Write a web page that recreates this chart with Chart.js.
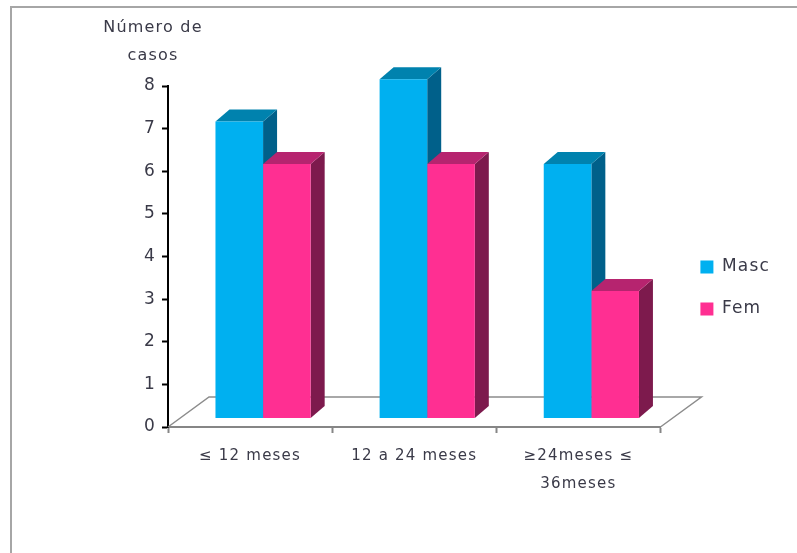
<!DOCTYPE html>
<html>
<head>
<meta charset="utf-8">
<script src="https://cdn.jsdelivr.net/npm/chart.js@4"></script>
<style>
  body { margin: 0; background: #fff; }
  canvas { display: block; }
</style>
</head>
<body>
<canvas id="chart" width="797" height="553"></canvas>
<script>
const categories = ['≤ 12 meses', '12 a 24 meses', ['≥24meses ≤', '36meses']];
const masc = [7, 8, 6];
const fem = [6, 6, 3];
const yTicks = [0, 1, 2, 3, 4, 5, 6, 7, 8];
const axisTitle = ['Número de', 'casos'];

const textColor = '#3a3a48';
const fontFamily = '"DejaVu Sans", sans-serif';
const spacing = '1.2px';
const depthX = 14, depthY = 12;
const barShiftX = 13;

// colours of the two extruded faces, per dataset
const sideColors = ['#00608a', '#7d1a4d'];
const topColors = ['#0082ae', '#b6246f'];

const look3d = {
    id: 'look3d',
    beforeLayout(chart) {
        chart.ctx.letterSpacing = spacing;
    },
    afterLayout(chart) {
        // legend sits higher and further right than its layout box
        chart.legend.left += 15;
        chart.legend.right = chart.width;
        chart.legend.width = chart.legend.right - chart.legend.left;
        chart.legend.top -= 63;
    },
    beforeDraw(chart) {
        const ctx = chart.ctx;
        ctx.letterSpacing = spacing;
        // outer frame, runs off the right and bottom edges
        ctx.save();
        ctx.fillStyle = '#a6a6a6';
        ctx.fillRect(10, 6, chart.width - 10, 2);
        ctx.fillRect(10, 6, 2, chart.height - 6);
        ctx.restore();
    },
    beforeDatasetsDraw(chart) {
        const ctx = chart.ctx;
        const {x, y} = chart.scales;
        const front = y.getPixelForValue(0);
        const left = x.left, right = x.right;

        // floor
        ctx.save();
        ctx.strokeStyle = '#8c8c8c';
        ctx.lineWidth = 1.5;
        ctx.beginPath();
        ctx.moveTo(left, front);
        ctx.lineTo(left + 41, front - 30);
        ctx.lineTo(right + 41, front - 30);
        ctx.lineTo(right, front);
        ctx.stroke();
        ctx.restore();

        ctx.save();
        ctx.translate(barShiftX, 0);
        chart.data.datasets.forEach((ds, i) => {
            chart.getDatasetMeta(i).data.forEach(bar => {
                const l = bar.x - bar.width / 2;
                const r = bar.x + bar.width / 2;
                ctx.fillStyle = sideColors[i];
                ctx.beginPath();
                ctx.moveTo(r, bar.y);
                ctx.lineTo(r + depthX, bar.y - depthY);
                ctx.lineTo(r + depthX, bar.base - depthY);
                ctx.lineTo(r, bar.base);
                ctx.closePath();
                ctx.fill();
                ctx.fillStyle = topColors[i];
                ctx.beginPath();
                ctx.moveTo(l, bar.y);
                ctx.lineTo(l + depthX, bar.y - depthY);
                ctx.lineTo(r + depthX, bar.y - depthY);
                ctx.lineTo(r, bar.y);
                ctx.closePath();
                ctx.fill();
            });
        });
    },
    afterDatasetsDraw(chart) {
        chart.ctx.restore();
    },
    afterDraw(chart) {
        const ctx = chart.ctx;
        ctx.save();
        ctx.fillStyle = textColor;
        ctx.font = '16px ' + fontFamily;
        ctx.textAlign = 'center';
        ctx.textBaseline = 'middle';
        ctx.fillText(axisTitle[0], 153, 28);
        ctx.fillText(axisTitle[1], 153, 56);
        ctx.restore();
    }
};

new Chart(document.getElementById('chart'), {
    type: 'bar',
    data: {
        labels: categories,
        datasets: [
            {label: 'Masc', data: masc, backgroundColor: '#00b0f0', yAxisID: 'bars', clip: false},
            {label: 'Fem', data: fem, backgroundColor: '#ff2f92', yAxisID: 'bars', clip: false}
        ]
    },
    options: {
        responsive: false,
        animation: false,
        layout: {padding: {top: 86, right: 32, bottom: 0, left: 0}},
        datasets: {bar: {barPercentage: 1, categoryPercentage: 0.58}},
        plugins: {
            title: {display: false},
            tooltip: {enabled: false},
            legend: {
                position: 'right',
                labels: {
                    boxWidth: 13,
                    boxHeight: 13,
                    padding: 25,
                    color: textColor,
                    font: {family: fontFamily, size: 17}
                }
            }
        },
        scales: {
            x: {
                afterFit(scale) { scale.height = 126; },
                border: {color: '#868686', width: 2},
                grid: {offset: true, drawOnChartArea: false, color: '#868686', tickLength: 6, tickWidth: 2},
                ticks: {
                    color: textColor,
                    padding: 9,
                    maxRotation: 0,
                    font: {family: fontFamily, size: 15, lineHeight: 1.87}
                }
            },
            y: {
                min: 0,
                max: 8,
                afterFit(scale) { scale.width = 168; },
                afterBuildTicks(scale) { scale.ticks = yTicks.map(value => ({value})); },
                border: {color: '#000', width: 2},
                grid: {drawOnChartArea: false, color: '#000', tickLength: 6, tickWidth: 2},
                ticks: {
                    color: textColor,
                    padding: 6,
                    font: {family: fontFamily, size: 17}
                }
            },
            // bars stand a little behind the axis plane
            bars: {
                display: false,
                min: -0.2125,
                max: 7.84
            }
        }
    },
    plugins: [look3d]
});
</script>
</body>
</html>
